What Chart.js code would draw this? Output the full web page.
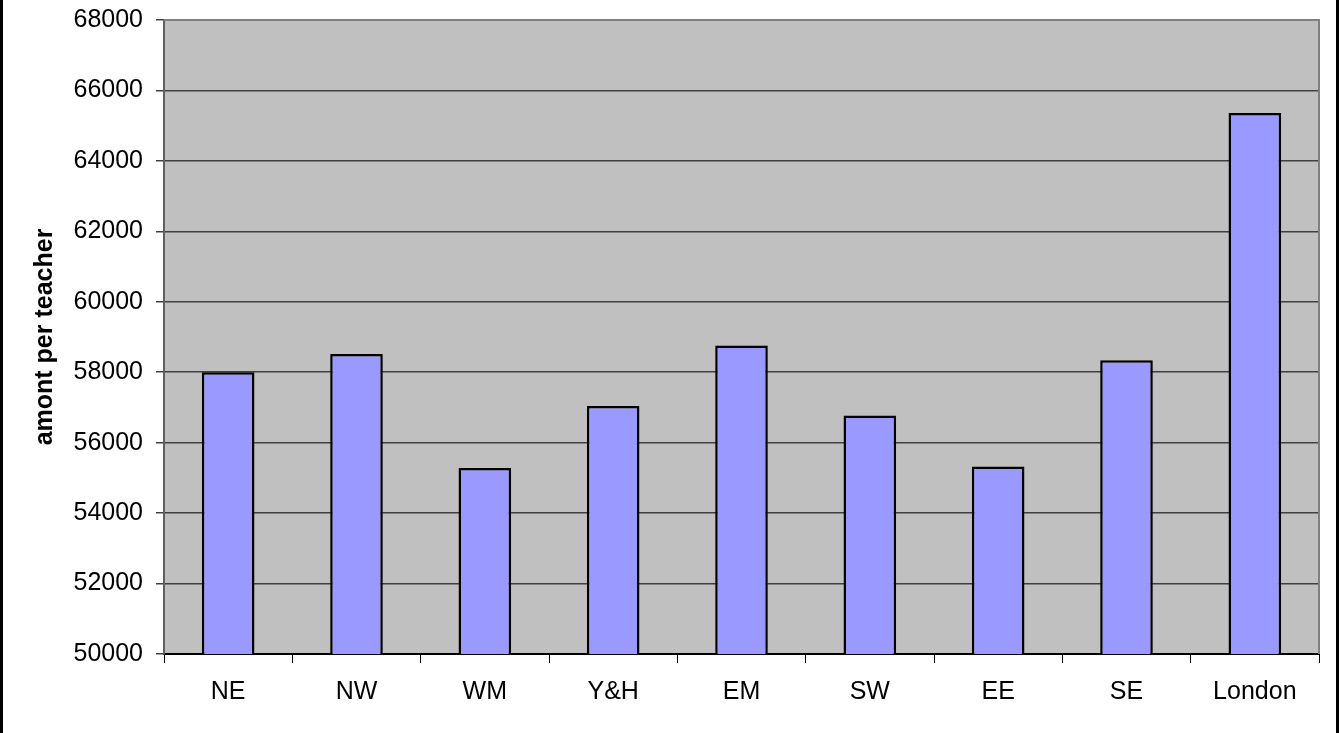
<!DOCTYPE html>
<html>
<head>
<meta charset="utf-8">
<title>amont per teacher by region</title>
<script src="https://cdn.jsdelivr.net/npm/chart.js@4/dist/chart.umd.min.js"></script>
<style>
  html, body { margin: 0; padding: 0; background: #fff; }
  #wrap { width: 1339px; height: 733px; }
</style>
</head>
<body>
<div id="wrap"><canvas id="grafico"></canvas></div>
<script>
// regiones y cantidad por profesor
const regiones = ['NE', 'NW', 'WM', 'Y&H', 'EM', 'SW', 'EE', 'SE', 'London'];
const cantidades = [58000, 58520, 55280, 57040, 58760, 56770, 55320, 58340, 65360];

// eje vertical
const ejeMin = 50000;
const ejeMax = 68000;
const ejePaso = 2000;

const fuente = "'Liberation Sans', Arial, sans-serif";

// fondo gris del area de trazado y marco exterior
const fondoPlot = {
    id: 'fondoPlot',
    beforeDraw(chart) {
        const { ctx, chartArea: a } = chart;
        ctx.save();
        ctx.fillStyle = '#c0c0c0';
        ctx.fillRect(a.left, a.top, a.right - a.left, a.bottom - a.top);
        ctx.restore();
    },
    beforeDatasetsDraw(chart) {
        const { ctx, chartArea: a } = chart;
        ctx.save();
        ctx.strokeStyle = '#808080';
        ctx.lineWidth = 2;
        ctx.beginPath();
        ctx.moveTo(a.left, a.top);
        ctx.lineTo(a.right, a.top);
        ctx.lineTo(a.right, a.bottom);
        ctx.stroke();
        ctx.restore();
    },
    afterDraw(chart) {
        const { ctx, width, height } = chart;
        ctx.save();
        ctx.fillStyle = '#000';
        ctx.fillRect(0, 0, 3, height);
        ctx.fillRect(width - 3, 0, 3, height);
        ctx.restore();
    }
};

const ctx = document.getElementById('grafico').getContext('2d');
new Chart(ctx, {
    type: 'bar',
    data: {
        labels: regiones,
        datasets: [{
            label: 'amont per teacher',
            data: cantidades,
            backgroundColor: '#9999ff',
            borderColor: '#000',
            borderWidth: 2.5,
            borderSkipped: false,
            barPercentage: 0.41,
            categoryPercentage: 1
        }]
    },
    options: {
        responsive: true,
        maintainAspectRatio: false,
        animation: false,
        layout: { padding: { top: 20, right: 20, bottom: 0, left: 0 } },
        plugins: {
            legend: { display: false },
            tooltip: { enabled: false }
        },
        scales: {
            x: {
                grid: {
                    drawOnChartArea: false,
                    drawTicks: true,
                    tickLength: 9,
                    tickColor: '#000',
                    offset: true
                },
                border: { color: '#000', width: 2 },
                ticks: {
                    color: '#000',
                    font: { family: fuente, size: 25 },
                    padding: 14,
                    maxRotation: 0
                },
                afterFit(scale) { scale.height = 79; }
            },
            y: {
                min: ejeMin,
                max: ejeMax,
                grid: {
                    color: '#404040',
                    lineWidth: 1.5,
                    tickLength: 8,
                    tickColor: '#404040'
                },
                border: { color: '#606060', width: 2 },
                ticks: {
                    stepSize: ejePaso,
                    color: '#000',
                    font: { family: fuente, size: 25 },
                    padding: 13,
                    callback: v => String(v)
                },
                title: {
                    display: true,
                    text: 'amont per teacher',
                    color: '#000',
                    font: { family: fuente, size: 25, weight: 'bold' },
                    padding: { top: 30, bottom: 0 }
                },
                afterFit(scale) {
                    scale.width = 164;
                    scale.paddingTop = 0;
                    scale.paddingBottom = 0;
                }
            }
        }
    },
    plugins: [fondoPlot]
});
</script>
</body>
</html>
